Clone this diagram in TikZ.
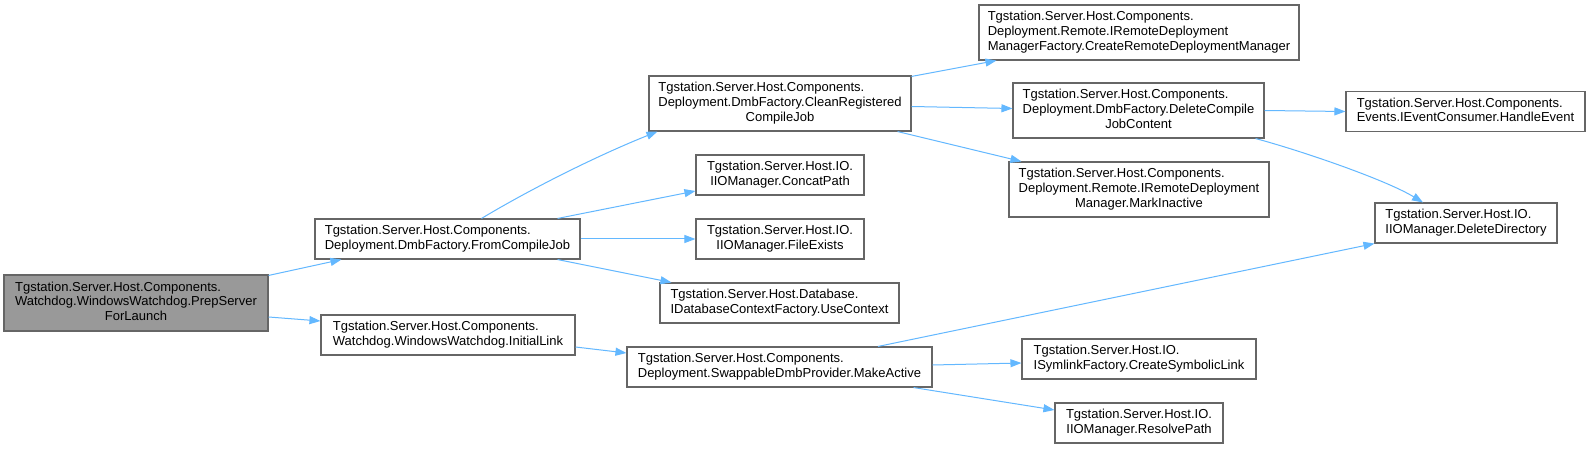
\documentclass[tikz,border=0pt]{standalone}
\usepackage{fontspec}
\setmainfont{Liberation Sans}
\usetikzlibrary{arrows.meta}
\definecolor{edgec}{HTML}{63B8FF}
\definecolor{borderc}{HTML}{666666}
\definecolor{rootc}{HTML}{999999}
\newcommand\lbl[2]{\begin{tabular}{@{}l@{}}#1\\\multicolumn{1}{@{}c@{}}{#2}\end{tabular}}
\begin{document}
\begin{tikzpicture}[x=1pt,y=-1pt,
  fnode/.style={draw=borderc, fill=white, line width=1.1pt, inner sep=0pt, align=center,
    font=\fontsize{13}{14.6}\selectfont},
  call/.style={draw=edgec, line width=1pt, -{Triangle[length=11pt,width=8pt]}}]
\path[use as bounding box, fill=white] (0,0) rectangle (1591,449);

\node[fnode, fill=rootc, minimum width=264, minimum height=56] (root) at (136,303)
  {\lbl{Tgstation.Server.Host.Components.\\Watchdog.WindowsWatchdog.PrepServer}{ForLaunch}};
\node[fnode, minimum width=265, minimum height=40] (from) at (447.5,239)
  {\lbl{Tgstation.Server.Host.Components.}{Deployment.DmbFactory.FromCompileJob}};
\node[fnode, minimum width=254, minimum height=40] (initial) at (448,335)
  {\lbl{Tgstation.Server.Host.Components.}{Watchdog.WindowsWatchdog.InitialLink}};
\node[fnode, minimum width=262, minimum height=55] (clean) at (780,103.5)
  {\lbl{Tgstation.Server.Host.Components.\\Deployment.DmbFactory.CleanRegistered}{CompileJob}};
\node[fnode, minimum width=168, minimum height=40] (concat) at (780,175)
  {\lbl{Tgstation.Server.Host.IO.}{IIOManager.ConcatPath}};
\node[fnode, minimum width=168, minimum height=40] (fileexists) at (780,239)
  {\lbl{Tgstation.Server.Host.IO.}{IIOManager.FileExists}};
\node[fnode, minimum width=239, minimum height=40] (usecontext) at (779.5,303)
  {\lbl{Tgstation.Server.Host.Database.}{IDatabaseContextFactory.UseContext}};
\node[fnode, minimum width=305, minimum height=40] (makeactive) at (779.5,367)
  {\lbl{Tgstation.Server.Host.Components.}{Deployment.SwappableDmbProvider.MakeActive}};
\node[fnode, minimum width=320, minimum height=55] (createremote) at (1139,32.5)
  {\lbl{Tgstation.Server.Host.Components.\\Deployment.Remote.IRemoteDeployment}{ManagerFactory.CreateRemoteDeploymentManager}};
\node[fnode, minimum width=251, minimum height=55] (deletecompile) at (1138.5,110.5)
  {\lbl{Tgstation.Server.Host.Components.\\Deployment.DmbFactory.DeleteCompile}{JobContent}};
\node[fnode, minimum width=260, minimum height=55] (markinactive) at (1139,189.5)
  {\lbl{Tgstation.Server.Host.Components.\\Deployment.Remote.IRemoteDeployment}{Manager.MarkInactive}};
\node[fnode, minimum width=234, minimum height=40] (createsym) at (1139,359)
  {\lbl{Tgstation.Server.Host.IO.}{ISymlinkFactory.CreateSymbolicLink}};
\node[fnode, minimum width=168, minimum height=40] (resolvepath) at (1139,423)
  {\lbl{Tgstation.Server.Host.IO.}{IIOManager.ResolvePath}};
\node[fnode, minimum width=239, minimum height=40] (handleevent) at (1465.5,111.5)
  {\lbl{Tgstation.Server.Host.Components.}{Events.IEventConsumer.HandleEvent}};
\node[fnode, minimum width=182, minimum height=40] (deletedir) at (1466,223)
  {\lbl{Tgstation.Server.Host.IO.}{IIOManager.DeleteDirectory}};

\draw[call] ([yshift=-1]root.north east) -- ([xshift=27]from.south west);
\draw[call] ([yshift=-14]root.east) -- ([yshift=14]initial.west);
\draw[call] ([xshift=34]from.north) .. controls +(50,-30) and +(-60,24) .. ([xshift=9]clean.south west);
\draw[call] ([xshift=-23]from.north east) -- ([yshift=-16]concat.west);
\draw[call] (from.east) -- (fileexists.west);
\draw[call] ([xshift=-23]from.south east) -- ([xshift=12]usecontext.north west);
\draw[call] ([yshift=-12]initial.east) -- ([yshift=14]makeactive.west);
\draw[call] ([yshift=-1]clean.north east) -- ([xshift=18]createremote.south west);
\draw[call] ([yshift=-3]clean.east) -- ([yshift=2]deletecompile.west);
\draw[call] ([xshift=-14]clean.south east) -- ([xshift=13]markinactive.north west);
\draw[call] (deletecompile.east) -- (handleevent.west);
\draw[call] ([xshift=-9]deletecompile.south east) .. controls +(45,12) and +(-38,-23) .. ([xshift=-43]deletedir.north);
\draw[call] ([xshift=98.5]makeactive.north) -- (deletedir.south west);
\draw[call] ([yshift=2]makeactive.east) -- ([yshift=-4]createsym.west);
\draw[call] ([xshift=-19]makeactive.south east) -- ([yshift=13]resolvepath.west);
\end{tikzpicture}
\end{document}
